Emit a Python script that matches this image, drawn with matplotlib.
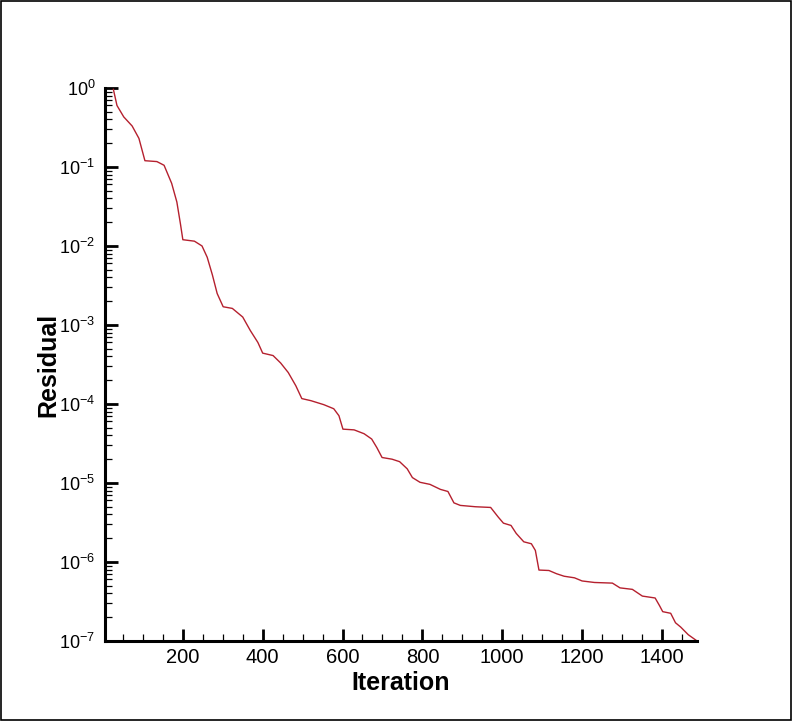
import numpy as np
import matplotlib
matplotlib.use("Agg")
import matplotlib.pyplot as plt
from matplotlib.ticker import MultipleLocator, LogLocator, LogFormatterMathtext, NullFormatter
from matplotlib.patches import Rectangle

plt.rcParams['font.family'] = ['Liberation Sans', 'DejaVu Sans']
plt.rcParams['mathtext.fontset'] = 'custom'
plt.rcParams['mathtext.rm'] = 'Liberation Sans'
plt.rcParams['mathtext.default'] = 'regular'
plt.rcParams['axes.unicode_minus'] = False

####data####
iteration = [26, 35, 52, 73, 90, 105, 135, 153, 172, 185, 194, 200, 229, 248, 261, 274,
             286, 301, 324, 350, 369, 388, 400, 426, 445, 464, 483, 498, 521, 553, 578,
             591, 601, 629, 654, 673, 686, 699, 724, 743, 762, 775, 794, 819, 845, 864,
             879, 895, 933, 971, 990, 1003, 1022, 1035, 1054, 1073, 1083, 1092, 1117,
             1136, 1155, 1181, 1200, 1231, 1276, 1295, 1326, 1351, 1383, 1394, 1402,
             1422, 1434, 1447, 1466, 1488]
residual = [0.96, 0.60, 0.43, 0.33, 0.23, 0.12, 0.117, 0.105, 0.062, 0.036, 0.019, 0.012,
            0.0115, 0.010, 0.0072, 0.0043, 0.0025, 0.0017, 0.00162, 0.00126, 0.00085,
            0.0006, 0.00044, 0.00041, 0.00033, 0.00025, 0.00017, 1.17e-4, 1.1e-4, 9.8e-5,
            8.7e-5, 7.1e-5, 4.8e-5, 4.7e-5, 4.2e-5, 3.6e-5, 2.8e-5, 2.1e-5, 2.0e-5,
            1.86e-5, 1.51e-5, 1.17e-5, 1.02e-5, 9.6e-6, 8.3e-6, 7.8e-6, 5.6e-6, 5.2e-6,
            5.0e-6, 4.9e-6, 3.7e-6, 3.1e-6, 2.9e-6, 2.3e-6, 1.8e-6, 1.7e-6, 1.4e-6,
            7.9e-7, 7.8e-7, 7.1e-7, 6.6e-7, 6.3e-7, 5.75e-7, 5.5e-7, 5.4e-7, 4.7e-7,
            4.5e-7, 3.7e-7, 3.5e-7, 2.8e-7, 2.35e-7, 2.24e-7, 1.7e-7, 1.5e-7, 1.2e-7,
            1.0e-7]

fig = plt.figure(figsize=(7.93, 7.21), dpi=100)
ax = fig.add_axes([0.1324, 0.111, 0.7466, 0.767])

ax.plot(iteration, residual, color='#b5202e', lw=1.0)

ax.set_yscale('log')
ax.set_xlim(5, 1488)
ax.set_ylim(1e-7, 1)

ax.xaxis.set_major_locator(MultipleLocator(200))
ax.xaxis.set_minor_locator(MultipleLocator(50))
ax.yaxis.set_major_locator(LogLocator(base=10, numticks=20))
ax.yaxis.set_minor_locator(LogLocator(base=10, subs=np.arange(2, 10), numticks=20))
ax.yaxis.set_major_formatter(LogFormatterMathtext())
ax.yaxis.set_minor_formatter(NullFormatter())

ax.spines['top'].set_visible(False)
ax.spines['right'].set_visible(False)
for s in ['left', 'bottom']:
    ax.spines[s].set_linewidth(2.2)
    ax.spines[s].set_capstyle('projecting')

ax.tick_params(which='major', direction='in', length=9, width=2.0, color='black')
ax.tick_params(which='minor', direction='in', length=5, width=0.9, color='black')
ax.tick_params(axis='x', which='major', pad=5, labelsize=14.5)
ax.tick_params(axis='y', which='major', pad=7, labelsize=13)

ax.set_xlabel('Iteration', fontsize=18, fontweight='bold')
ax.set_ylabel('Residual', fontsize=18, fontweight='bold')
ax.xaxis.set_label_coords(0.5, -0.076)
ax.yaxis.set_label_coords(-0.096, 0.5)
ax.xaxis.label.set_va('center')
ax.yaxis.label.set_va('center')

####frame round the whole picture####
fig.patches.append(Rectangle((0.001, 0.001), 0.997, 0.997, transform=fig.transFigure,
                             fill=False, edgecolor='black', lw=1.2))

fig.savefig('out.png', dpi=100)
